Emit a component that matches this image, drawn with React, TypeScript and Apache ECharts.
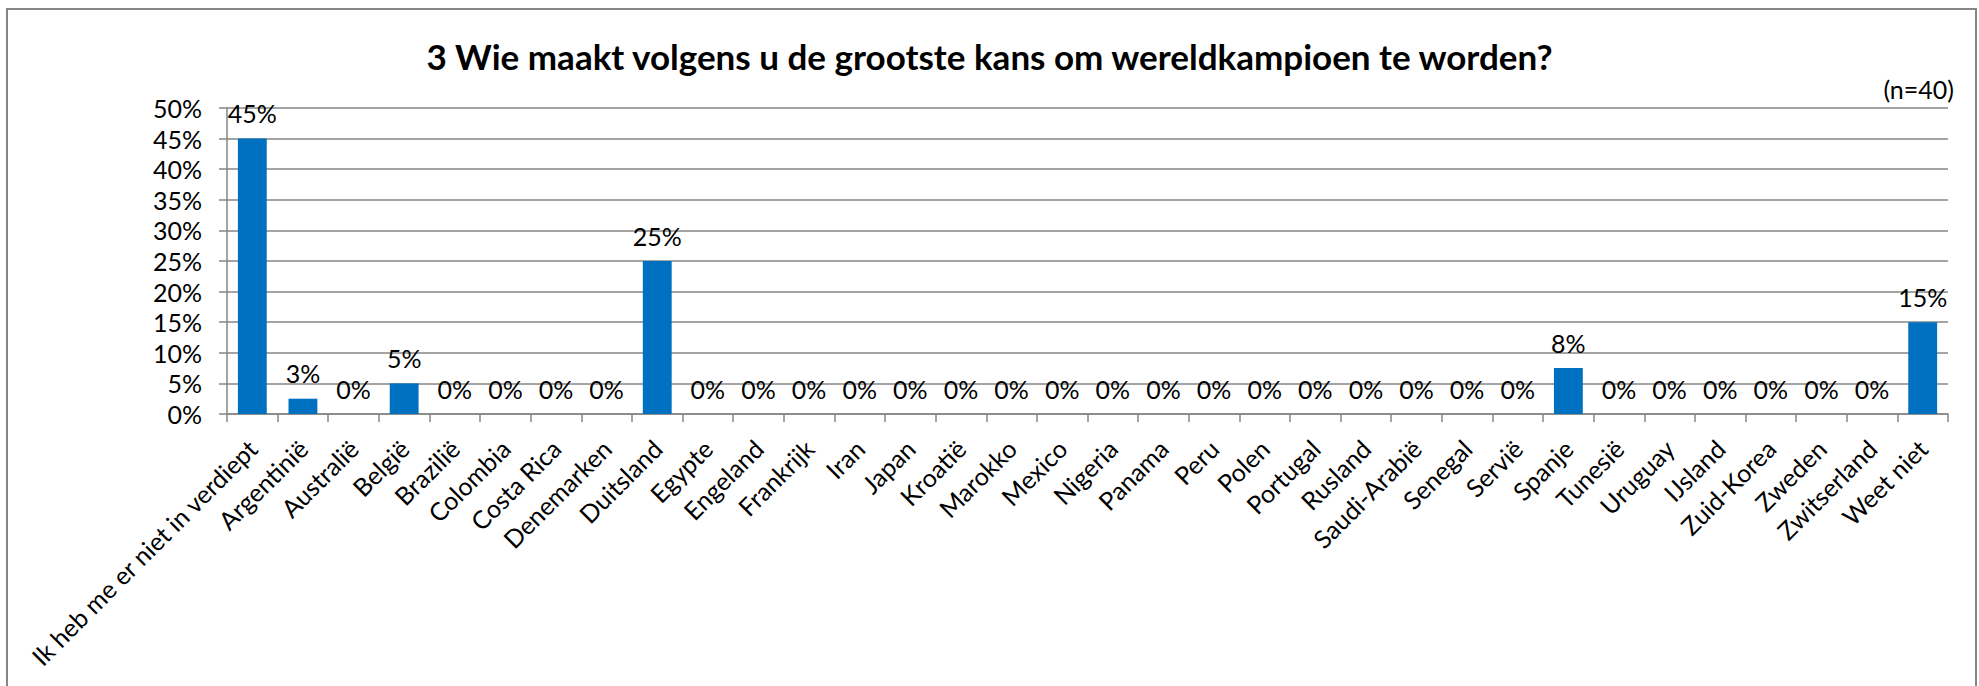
import React, { useEffect, useRef } from "react";
import * as echarts from "echarts";

const titleText = "3 Wie maakt volgens u de grootste kans om wereldkampioen te worden?";
const noteText = "(n=40)";

const categories = [
  "Ik heb me er niet in verdiept",
  "Argentinië",
  "Australië",
  "België",
  "Brazilië",
  "Colombia",
  "Costa Rica",
  "Denemarken",
  "Duitsland",
  "Egypte",
  "Engeland",
  "Frankrijk",
  "Iran",
  "Japan",
  "Kroatië",
  "Marokko",
  "Mexico",
  "Nigeria",
  "Panama",
  "Peru",
  "Polen",
  "Portugal",
  "Rusland",
  "Saudi-Arabië",
  "Senegal",
  "Servië",
  "Spanje",
  "Tunesië",
  "Uruguay",
  "IJsland",
  "Zuid-Korea",
  "Zweden",
  "Zwitserland",
  "Weet niet",
];

const values = [
  45, 2.5, 0, 5, 0, 0, 0, 0, 25, 0, 0, 0, 0, 0, 0, 0, 0, 0, 0, 0, 0, 0, 0, 0, 0,
  0, 7.5, 0, 0, 0, 0, 0, 0, 15,
];

const yMin = 0;
const yMax = 50;
const yStep = 5;

const FONT = "Lato";
const GRAY = "#868686";

export default function App() {
  const ref = useRef<HTMLDivElement>(null);

  useEffect(() => {
    if (!ref.current) return;
    const chart = echarts.init(ref.current, null, { renderer: "svg" });
    chart.setOption({
      animation: false,
      backgroundColor: "#ffffff",
      textStyle: { fontFamily: FONT, color: "#000" },
      title: {
        text: titleText,
        left: "center",
        top: 33,
        textStyle: {
          fontFamily: FONT,
          fontWeight: "bold",
          fontSize: 35,
          color: "#000",
        },
      },
      grid: {
        left: 227,
        right: 31,
        top: 108,
        bottom: 272,
        containLabel: false,
      },
      xAxis: {
        type: "category",
        data: categories,
        axisLine: { show: true, lineStyle: { color: GRAY, width: 1.5 } },
        axisTick: {
          show: true,
          alignWithLabel: false,
          length: 8,
          lineStyle: { color: GRAY, width: 1.5 },
        },
        axisLabel: {
          interval: 0,
          rotate: 45,
          margin: 30,
          fontFamily: FONT,
          fontSize: 25,
          color: "#000",
        },
      },
      yAxis: {
        type: "value",
        min: yMin,
        max: yMax,
        interval: yStep,
        axisLine: { show: true, lineStyle: { color: GRAY, width: 1.5 } },
        axisTick: {
          show: true,
          length: 8,
          lineStyle: { color: GRAY, width: 1.5 },
        },
        axisLabel: {
          formatter: "{value}%",
          margin: 25,
          fontFamily: FONT,
          fontSize: 25,
          color: "#000",
        },
        splitLine: { show: true, lineStyle: { color: GRAY, width: 1.5 } },
      },
      series: [
        {
          type: "bar",
          data: values,
          barWidth: "57%",
          itemStyle: { color: "#0070C0" },
          label: {
            show: true,
            position: "top",
            distance: 13,
            fontFamily: FONT,
            fontSize: 25,
            color: "#000",
            formatter: (p: any) => Math.round(p.value) + "%",
          },
        },
      ],
      graphic: [
        {
          type: "rect",
          shape: { x: 7, y: 9, width: 1969, height: 700 },
          style: { fill: "none", stroke: GRAY, lineWidth: 2 },
          silent: true,
          z: 100,
        },
        {
          type: "text",
          x: 1954,
          y: 89,
          style: {
            text: noteText,
            fontFamily: FONT,
            fontSize: 25,
            fill: "#000",
            textAlign: "right",
            textVerticalAlign: "middle",
          },
        },
      ],
    });
    return () => chart.dispose();
  }, []);

  return (
    <div
      ref={ref}
      style={{
        position: "fixed",
        left: 0,
        top: 0,
        width: 1979,
        height: 686,
        background: "#fff",
      }}
    />
  );
}
